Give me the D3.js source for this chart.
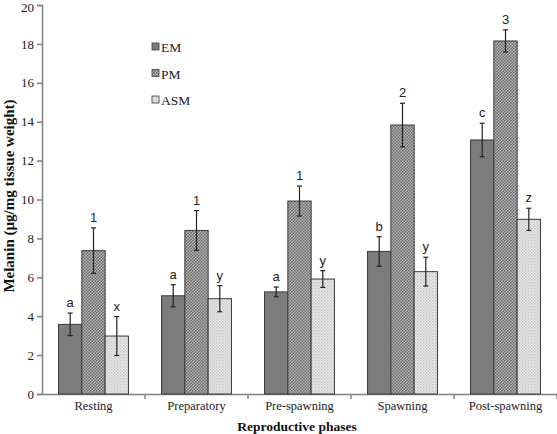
<!DOCTYPE html>
<html><head><meta charset="utf-8">
<script src="https://cdn.jsdelivr.net/npm/d3@7/dist/d3.min.js"></script>
<style>body{margin:0;background:#fff}svg{display:block}</style>
</head><body>
<script>
const categories = ["Resting","Preparatory","Pre-spawning","Spawning","Post-spawning"];
const seriesNames = ["EM","PM","ASM"];
const emValues = [3.58, 5.05, 5.25, 7.33, 13.06];
const pmValues = [7.37, 8.41, 9.92, 13.83, 18.15];
const asmValues = [2.98, 4.90, 5.91, 6.29, 8.98];
const emErr = [0.58, 0.57, 0.25, 0.76, 0.86];
const pmErr = [1.17, 1.02, 0.77, 1.12, 0.57];
const asmErr = [1.0, 0.67, 0.43, 0.74, 0.57];
const emLetters = ["a","a","a","b","c"];
const pmLetters = ["1","1","1","2","3"];
const asmLetters = ["x","y","y","y","z"];
const yTicks = [0,2,4,6,8,10,12,14,16,18,20];

const W = 557, H = 434;
const svg = d3.select("body").append("svg").attr("width", W).attr("height", H);
const defs = svg.append("defs");
// PM checker pattern
const p1 = defs.append("pattern").attr("id","pm").attr("width",3).attr("height",3).attr("patternUnits","userSpaceOnUse");
p1.append("rect").attr("width",3).attr("height",3).attr("fill","#b4b4b4");
p1.append("rect").attr("x",0).attr("y",0).attr("width",1.5).attr("height",1.5).attr("fill","#6e6e6e");
p1.append("rect").attr("x",1.5).attr("y",1.5).attr("width",1.5).attr("height",1.5).attr("fill","#6e6e6e");
// ASM light pattern
const p2 = defs.append("pattern").attr("id","asm").attr("width",3).attr("height",3).attr("patternUnits","userSpaceOnUse");
p2.append("rect").attr("width",3).attr("height",3).attr("fill","#ebebeb");
p2.append("rect").attr("x",0).attr("y",0).attr("width",1.5).attr("height",1.5).attr("fill","#c4c4c4");
p2.append("rect").attr("x",1.5).attr("y",1.5).attr("width",1.5).attr("height",1.5).attr("fill","#d2d2d2");

const fills = {EM:"#7c7c7c", PM:"url(#pm)", ASM:"url(#asm)"};
const series = [
  {name:"EM", values:emValues, err:emErr, letters:emLetters},
  {name:"PM", values:pmValues, err:pmErr, letters:pmLetters},
  {name:"ASM", values:asmValues, err:asmErr, letters:asmLetters}
];

const x0 = 42, x1 = 557, yTop = 5, yBot = 394;
const x = d3.scaleBand().domain(categories).range([x0, x1]).paddingInner(0).paddingOuter(0);
const y = d3.scaleLinear().domain([0,20]).range([yBot, yTop]);
const xs = d3.scaleBand().domain(seriesNames).range([0, x.bandwidth()]).paddingInner(0).paddingOuter(0.71);

// axes
const yAxis = d3.axisLeft(y).tickValues(yTicks).tickSize(5).tickPadding(3).tickFormat(d3.format("d"));
const gy = svg.append("g").attr("transform",`translate(${x0},0)`).call(yAxis);
gy.select(".domain").attr("stroke","#808080").attr("stroke-width",1.5);
gy.selectAll(".tick line").attr("stroke","#808080").attr("stroke-width",1.5);
gy.selectAll(".tick text").attr("font-family","Liberation Serif, Times New Roman, serif").attr("font-size",13).attr("fill","#222")
  .attr("dy", d => d === 20 ? "0.5em" : "0.32em");

const xAxis = d3.axisBottom(x).tickSize(0).tickPadding(7);
const gx = svg.append("g").attr("transform",`translate(0,${yBot})`).call(xAxis);
gx.select(".domain").attr("stroke","#808080").attr("stroke-width",1.5);
gx.selectAll(".tick text").attr("font-family","Liberation Serif, Times New Roman, serif").attr("font-size",12.5).attr("fill","#222");
// category separator ticks
svg.append("g").selectAll("line").data(categories).join("line")
  .attr("x1", d=>x(d)+x.bandwidth()).attr("x2", d=>x(d)+x.bandwidth())
  .attr("y1", yBot).attr("y2", yBot+5).attr("stroke","#808080").attr("stroke-width",1.5);

// bars
series.forEach(s => {
  const g = svg.append("g");
  g.selectAll("rect").data(categories).join("rect")
    .attr("x", (c)=>x(c)+xs(s.name))
    .attr("width", xs.bandwidth())
    .attr("y", (c,i)=>y(s.values[i]))
    .attr("height", (c,i)=>yBot - y(s.values[i]))
    .attr("fill", fills[s.name])
    .attr("stroke","#3a3a3a").attr("stroke-width",1);
});
// error bars and letters
series.forEach(s => {
  const g = svg.append("g");
  categories.forEach((c,i) => {
    const cx = x(c)+xs(s.name)+xs.bandwidth()/2;
    const t = y(s.values[i]+s.err[i]), b = y(s.values[i]-s.err[i]);
    g.append("line").attr("x1",cx).attr("x2",cx).attr("y1",t).attr("y2",b).attr("stroke","#222").attr("stroke-width",1.2);
    g.append("line").attr("x1",cx-2.5).attr("x2",cx+2.5).attr("y1",t).attr("y2",t).attr("stroke","#222").attr("stroke-width",1.2);
    g.append("line").attr("x1",cx-2.5).attr("x2",cx+2.5).attr("y1",b).attr("y2",b).attr("stroke","#222").attr("stroke-width",1.2);
    g.append("text").attr("x",cx).attr("y",t-6).attr("text-anchor","middle")
      .attr("font-family","Liberation Sans, Arial, sans-serif").attr("font-size",13).attr("fill","#222")
      .text(s.letters[i]);
  });
});

// legend
const leg = svg.append("g");
seriesNames.forEach((n,i) => {
  const ly = 48 + i*26.5;
  leg.append("rect").attr("x",152).attr("y",ly-5).attr("width",7).attr("height",7)
    .attr("fill",fills[n]).attr("stroke","#3a3a3a").attr("stroke-width",0.8);
  leg.append("text").attr("x",161).attr("y",ly+4).attr("font-family","Liberation Serif, Times New Roman, serif")
    .attr("font-size",13.5).attr("fill","#222").text(n);
});

// axis titles
svg.append("text").attr("transform",`translate(14,196) rotate(-90)`).attr("text-anchor","middle")
  .attr("font-family","Liberation Serif, Times New Roman, serif").attr("font-weight","bold").attr("font-size",15).attr("fill","#111")
  .text("Melanin (µg/mg tissue weight)");
svg.append("text").attr("x",297).attr("y",431).attr("text-anchor","middle")
  .attr("font-family","Liberation Serif, Times New Roman, serif").attr("font-weight","bold").attr("font-size",13.5).attr("fill","#111")
  .text("Reproductive phases");
</script>
</body></html>
